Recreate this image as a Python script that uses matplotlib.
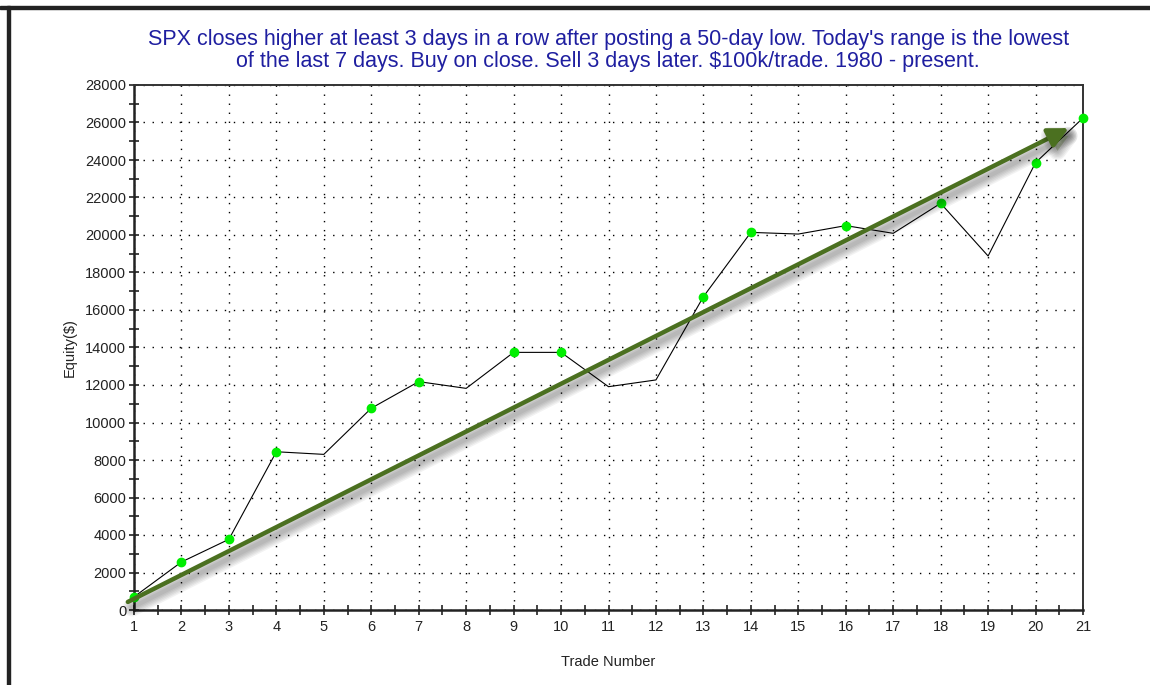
import matplotlib
matplotlib.use("Agg")
import matplotlib.pyplot as plt
import matplotlib.patheffects as pe
from matplotlib.patches import Rectangle
from matplotlib.ticker import MultipleLocator

plt.rcParams['font.family'] = ['Liberation Sans', 'DejaVu Sans']

# equity curve
trades = list(range(1, 22))
equity = [700, 2560, 3770, 8440, 8300, 10760, 12180, 11820, 13740, 13740,
          11910, 12270, 16710, 20140, 20050, 20500, 20090, 21690, 18880,
          23860, 26240]
# trades that hit a new equity high (green dots)
high_trades = [1, 2, 3, 4, 6, 7, 9, 10, 13, 14, 16, 18, 20, 21]
high_equity = [equity[t - 1] for t in high_trades]

# trend arrow (start / tip in data units)
arrow_start = (0.87, 430)
arrow_tip = (20.7, 25700)

title = ("SPX closes higher at least 3 days in a row after posting a 50-day low. Today's range is the lowest\n"
         "of the last 7 days. Buy on close. Sell 3 days later. $100k/trade. 1980 - present.")

fig = plt.figure(figsize=(11.5, 6.85), dpi=100)
ax = fig.add_axes([134 / 1150, 75 / 685, (1083 - 134) / 1150, (610 - 85) / 685])

# outer frame lines (top and left)
fig.patches.append(Rectangle((0, 676 / 685), 1, 3 / 685, transform=fig.transFigure,
                             color='#222222', zorder=10))
fig.patches.append(Rectangle((7 / 1150, 0), 3 / 1150, 679 / 685, transform=fig.transFigure,
                             color='#222222', zorder=10))

ax.plot(trades, equity, color='black', lw=0.8, zorder=3)
ax.plot(high_trades, high_equity, 'o', color='#00ee00', ms=6, mec='#00ee00', zorder=4, clip_on=False)

arr = ax.annotate('', xy=arrow_tip, xytext=arrow_start, xycoords='data',
                  annotation_clip=False, zorder=5,
                  arrowprops=dict(arrowstyle='-|>,head_length=1.2,head_width=0.6',
                                  color='#4b7020', lw=3.2, shrinkA=0, shrinkB=0))
# soft drop shadow: stacked wide translucent strokes
shadows = [pe.Stroke(offset=(3, -4), linewidth=w, foreground='black', alpha=0.05)
           for w in (13, 11, 9, 7, 5, 3)]
arr.arrow_patch.set_path_effects(shadows + [pe.Normal()])

ax.set_xlim(1, 21)
ax.set_ylim(0, 28000)
ax.set_xticks(trades)
ax.xaxis.set_minor_locator(MultipleLocator(0.5))
ax.yaxis.set_major_locator(MultipleLocator(2000))
ax.yaxis.set_minor_locator(MultipleLocator(1000))
ax.tick_params(which='both', direction='inout', length=7, width=1.2, color='#222222',
               labelsize=10.5, labelcolor='#222222')
ax.tick_params(axis='x', pad=4)
ax.tick_params(axis='y', pad=2)

ax.grid(True, which='major', color='black', lw=1.0, linestyle=(0, (1, 5.5)))
for s in ('left', 'bottom'):
    ax.spines[s].set_linewidth(1.8)
    ax.spines[s].set_color('#222222')
for s in ('top', 'right'):
    ax.spines[s].set_linewidth(1.4)
    ax.spines[s].set_color('#333333')

ax.set_xlabel('Trade Number', fontsize=10.5, color='#222222', labelpad=15)
ax.set_ylabel('Equity($)', fontsize=10.5, color='#222222', labelpad=6)

fig.text(0.529, 0.926, title, ha='center', va='center', fontsize=15.5,
         color='#1f1fa0', linespacing=1.1)

fig.savefig('out.png', dpi=100)
